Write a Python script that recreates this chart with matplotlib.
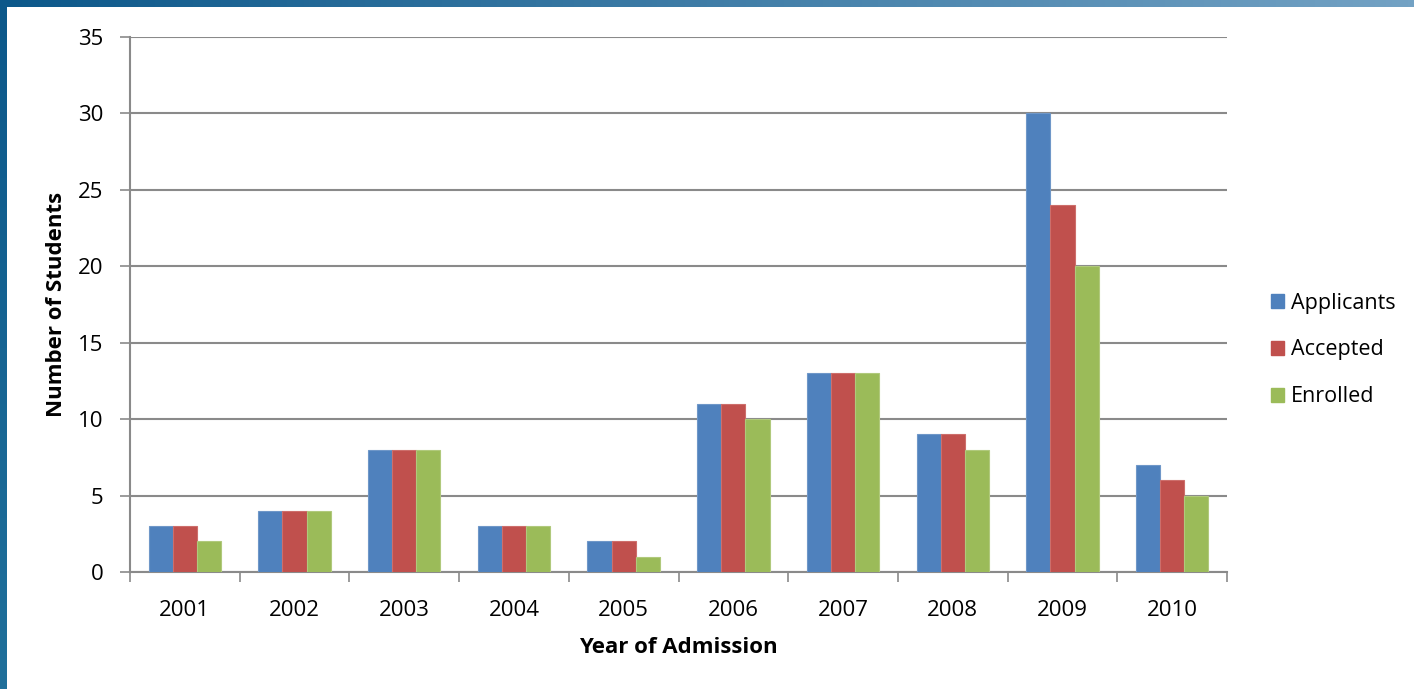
import numpy as np
import matplotlib.pyplot as plt
from matplotlib.patches import Patch

plt.rcParams['font.family'] = ['Open Sans', 'DejaVu Sans']

# 数据
years = ['2001', '2002', '2003', '2004', '2005', '2006', '2007', '2008', '2009', '2010']
applicants = [3, 4, 8, 3, 2, 11, 13, 9, 30, 7]
accepted = [3, 4, 8, 3, 2, 11, 13, 9, 24, 6]
enrolled = [2, 4, 8, 3, 1, 10, 13, 8, 20, 5]
series_names = ['Applicants', 'Accepted', 'Enrolled']
colors = ['#4f81bd', '#c0504d', '#9bbb59']
edges = ['#6f97c8', '#cd6e6b', '#b0c97c']

fig = plt.figure(figsize=(14.14, 6.89), dpi=100)

# 边框（上方渐变条 + 左侧条）
top = fig.add_axes([0, 1 - 7 / 689, 1, 7 / 689])
grad = np.linspace(0, 1, 256)
c0 = np.array([12, 88, 138]) / 255
c1 = np.array([115, 162, 196]) / 255
top.imshow((c0 + (c1 - c0) * grad[:, None])[None, :, :], aspect='auto', extent=[0, 1, 0, 1])
top.axis('off')
left = fig.add_axes([0, 0, 7 / 1414, 1 - 7 / 689])
c2 = np.array([32, 112, 155]) / 255
left.imshow((c0 + (c2 - c0) * grad[:, None])[:, None, :], aspect='auto', extent=[0, 1, 0, 1])
left.axis('off')

ax = fig.add_axes([130 / 1414, 117 / 689, 1097 / 1414, 535 / 689])
x = np.arange(len(years))
w = 0.22
for i, vals in enumerate([applicants, accepted, enrolled]):
    ax.bar(x + (i - 1) * w, vals, width=w, color=colors[i], edgecolor=edges[i],
           linewidth=0.8, zorder=3, label=series_names[i])

ax.set_xlim(-0.5, len(years) - 0.5)
ax.set_ylim(0, 35)
ax.set_yticks(np.arange(0, 36, 5))
ax.yaxis.grid(True, color='#8a8a8a', linewidth=1.5, zorder=0)
ax.set_axisbelow(True)
for s in ['top', 'right']:
    ax.spines[s].set_visible(False)
for s in ['left', 'bottom']:
    ax.spines[s].set_color('#8a8a8a')
    ax.spines[s].set_linewidth(1.5)

ax.set_xticks(x)
ax.set_xticklabels(years)
ax.set_xticks(np.arange(-0.5, len(years)), minor=True)
ax.tick_params(axis='x', which='major', length=0, pad=20, labelsize=16)
ax.tick_params(axis='x', which='minor', length=7, width=1.2, color='#8a8a8a', direction='out')
ax.tick_params(axis='y', length=7, width=1.2, color='#8a8a8a', pad=12, labelsize=16)

ax.set_xlabel('Year of Admission', fontsize=16, fontweight='bold', labelpad=12)
ax.set_ylabel('Number of Students', fontsize=16, fontweight='bold', labelpad=8)

handles = [Patch(facecolor=c, edgecolor=c) for c in colors]
fig.legend(handles, series_names, loc='center left', bbox_to_anchor=(1252 / 1414, 1 - 350 / 689),
           frameon=False, fontsize=15.5, handlelength=0.6, handleheight=0.6,
           handletextpad=0.3, labelspacing=1.2)

fig.savefig('out.png', dpi=100)
